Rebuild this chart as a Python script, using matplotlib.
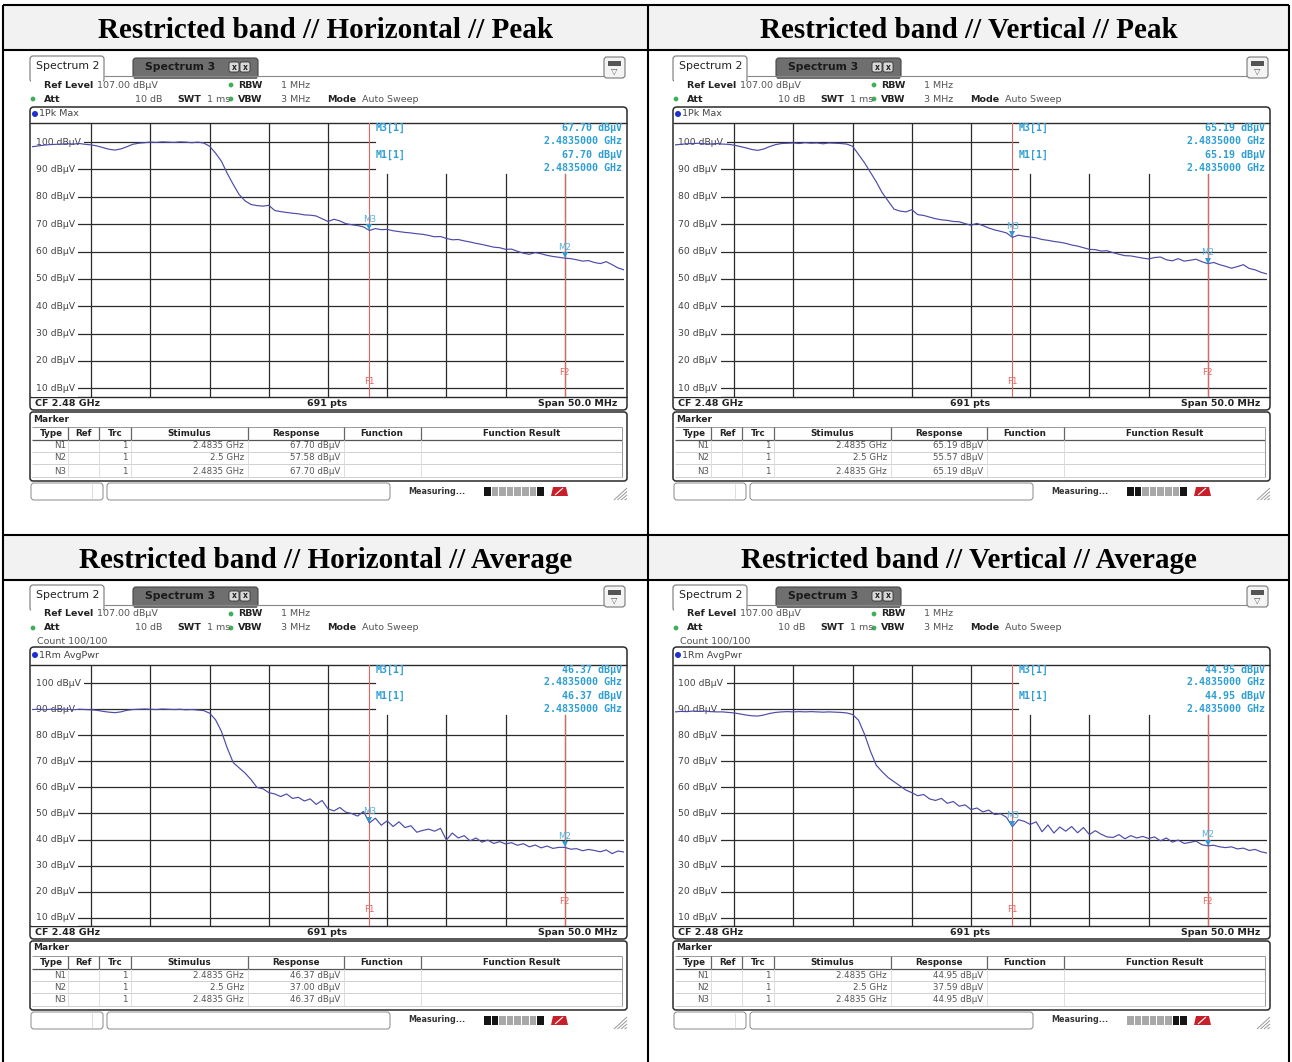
import matplotlib
matplotlib.use('Agg')
import matplotlib.pyplot as plt
from matplotlib.patches import FancyBboxPatch, Rectangle, Circle, Polygon
import numpy as np

W, H = 1292, 1062

# ---------------- data ----------------
panel_titles = ["Restricted band // Horizontal // Peak",
                "Restricted band // Vertical // Peak",
                "Restricted band // Horizontal // Average",
                "Restricted band // Vertical // Average"]
trace_names = ["1Pk Max", "1Pk Max", "1Rm AvgPwr", "1Rm AvgPwr"]
cf_ghz = 2.48
span_mhz = 50.0
f1_ghz = 2.4835
f2_ghz = 2.5
freq_offset_mhz = np.arange(0, 50.5, 0.5)  # 0.5 MHz sample positions across the span

trace_peak_h = [98.3, 98.6, 98.9, 99.1, 99.2, 99.3, 99.4, 99.3, 99.5, 99.2,
                99.0, 98.6, 98.0, 97.4, 97.1, 97.5, 98.3, 99.2, 99.6, 99.8,
                100.0, 99.9, 100.1, 100.0, 99.9, 100.1, 100.0, 99.8, 100.0, 99.7,
                98.5, 96.0, 93.0, 88.5, 84.5, 80.8, 78.5, 77.2, 76.8, 76.6,
                76.9, 75.0, 74.6, 74.3, 74.0, 73.8, 73.4, 73.3, 73.0, 72.0,
                71.0, 71.8, 71.2, 70.2, 69.8, 69.5, 69.0, 67.7, 68.4, 68.0,
                68.1, 67.6, 67.3, 67.0, 66.8, 66.5, 66.3, 65.9, 65.4, 65.5,
                64.8, 64.3, 64.4, 63.9, 63.5, 63.0, 62.6, 62.1, 61.6, 61.4,
                60.8, 60.9, 60.1, 59.4, 59.0, 59.6, 59.2, 58.6, 58.2, 57.9,
                57.58, 57.4, 57.0, 56.5, 56.7, 56.0, 55.6, 56.3, 55.2, 54.0, 53.3]
trace_peak_v = [99.0, 99.2, 99.4, 99.5, 99.6, 99.4, 99.3, 99.5, 99.3, 99.2,
                98.9, 98.4, 97.9, 97.3, 97.0, 97.5, 98.4, 99.1, 99.5, 99.6,
                99.7, 99.5, 99.8, 99.6, 99.7, 99.4, 99.7, 99.6, 99.5, 99.3,
                98.5, 95.5, 92.5, 89.0, 85.5, 81.5, 78.5, 75.5, 74.8, 74.5,
                75.3, 73.5, 73.2, 72.6, 72.0, 71.6, 71.4, 71.0, 70.9, 70.2,
                69.6, 70.3, 69.5, 68.6, 67.9, 67.4, 66.8, 65.19, 66.0, 65.6,
                65.3, 65.0, 64.4, 64.1, 63.7, 63.4, 63.0, 62.4, 62.0, 61.4,
                60.8, 60.7, 60.2, 60.3, 59.6, 59.0, 58.5, 58.4, 58.0, 57.6,
                57.3, 57.8, 58.0, 57.0, 56.6, 57.4, 56.5, 56.8, 57.2, 56.3,
                55.57, 56.0, 55.2, 54.6, 53.9, 54.5, 55.2, 53.8, 53.3, 52.4, 51.8]
trace_avg_h = [89.9, 90.0, 89.8, 90.0, 89.9, 90.0, 90.0, 89.8, 90.0, 89.9,
               89.8, 89.6, 89.2, 88.9, 88.7, 89.0, 89.6, 89.9, 90.0, 90.1,
               90.0, 89.9, 90.1, 90.0, 89.9, 90.0, 89.8, 89.9, 89.7, 89.5,
               88.5, 86.0, 81.5, 75.0, 69.5, 67.5, 65.5, 63.0, 60.0, 59.5,
               58.0, 57.5, 56.5, 57.5, 55.8, 56.2, 54.8, 55.6, 53.5, 55.0,
               51.8, 51.0, 52.3, 50.5, 50.0, 49.0, 50.8, 46.37, 48.2, 45.5,
               47.2, 45.0, 46.8, 44.6, 45.3, 42.8, 43.5, 44.0, 43.2, 44.3,
               39.8, 42.5, 40.6, 41.5, 39.5, 40.6, 39.0, 39.8, 38.5, 39.2,
               38.3, 38.8, 37.8, 38.4, 37.2, 37.9, 36.8, 37.5, 36.6, 37.0,
               37.00, 36.3, 36.5, 35.7, 36.2, 35.8, 35.3, 36.0, 34.6, 35.6, 35.2]
trace_avg_v = [89.0, 89.2, 89.1, 89.3, 89.2, 89.3, 89.1, 89.0, 89.0, 88.8,
               88.6, 88.2, 87.8, 87.5, 87.4, 87.8, 88.4, 88.8, 89.0, 89.1,
               89.0, 89.1, 89.0, 89.1, 89.0, 88.9, 89.0, 88.9, 88.8, 88.6,
               88.0, 85.8, 80.5, 74.0, 68.5, 66.0, 63.8, 62.2, 60.6, 59.0,
               58.0, 56.8, 57.3, 55.6, 55.0, 55.8, 53.9, 54.6, 52.8, 53.3,
               51.5, 52.1, 50.6, 51.3, 49.6, 49.9, 48.5, 44.95, 47.6, 47.0,
               45.8, 46.8, 43.0, 45.6, 42.5, 44.8, 43.2, 45.0, 42.6, 44.6,
               41.9, 43.4, 42.0, 41.0, 40.8, 41.9, 40.3, 41.5, 40.6, 41.2,
               40.4, 41.0, 39.5, 40.6, 39.0, 39.8, 38.5, 38.9, 39.4, 38.0,
               37.59, 37.8, 37.2, 36.9, 37.2, 36.4, 36.7, 35.8, 36.2, 35.3, 34.8]
traces = [trace_peak_h, trace_peak_v, trace_avg_h, trace_avg_v]

m1_values = [67.70, 65.19, 46.37, 44.95]   # M1 = M3 at 2.4835 GHz
m2_values = [57.58, 55.57, 37.00, 37.59]   # M2 at 2.5 GHz
ref_level = 107.0
y_ticks = [100, 90, 80, 70, 60, 50, 40, 30, 20, 10]
progress_black = [[0, 7], [0, 1, 7], [0, 1, 7], [6, 7]]

# ---------------- figure ----------------
fig = plt.figure(figsize=(W / 100, H / 100), dpi=100)
bg = fig.add_axes([0, 0, 1, 1], zorder=0)
bg.set_xlim(0, W)
bg.set_ylim(H, 0)
bg.axis('off')

SANS = 'DejaVu Sans'
MONO = 'DejaVu Sans Mono'

# table structure
for ty in (5, 535):
    bg.add_patch(Rectangle((3, ty), W - 6, 45, fc='#f2f2f2', ec='none', zorder=0))
for ty in (5, 50, 535, 580):
    bg.plot([3, W - 3], [ty, ty], color='black', lw=1.5, zorder=2, solid_capstyle='butt')
for tx in (3, 648, W - 3):
    bg.plot([tx, tx], [5, H], color='black', lw=1.5, zorder=2, solid_capstyle='butt')
title_pos = [(326, 30), (969, 30), (326, 560), (969, 560)]
for (tx, ty), t in zip(title_pos, panel_titles):
    bg.text(tx, ty, t, ha='center', va='center', fontsize=21, fontweight='bold',
            family='Liberation Serif', color='black', zorder=3)


def rbox(x0, y0, x1, y1, r=3, fc='white', ec='#555555', lw=0.8, z=1):
    bg.add_patch(FancyBboxPatch((x0 + r, y0 + r), (x1 - x0) - 2 * r, (y1 - y0) - 2 * r,
                                boxstyle="round,pad=%g" % r, fc=fc, ec=ec, lw=lw, zorder=z))


def draw_panel(idx, dx, dy):
    avg = idx >= 2

    def T(x, y, s, size=6.8, weight='normal', color='#333333', ha='left', family=SANS, z=4):
        bg.text(x + dx, y + dy, s, fontsize=size, fontweight=weight, color=color,
                ha=ha, va='center', family=family, zorder=z)

    def L(xs, ys, color='#333333', lw=0.8, z=2):
        bg.plot([x + dx for x in xs], [y + dy for y in ys], color=color, lw=lw, zorder=z,
                solid_capstyle='butt')

    # --- tabs ---
    L([104, 604], [76, 76], color='#888888', lw=0.8)
    rbox(30 + dx, 56 + dy, 104 + dx, 82 + dy, r=3, fc='white', ec='#777777', lw=0.8)
    bg.add_patch(Rectangle((31 + dx, 77 + dy), 72, 6, fc='white', ec='none', zorder=1.5))
    T(36, 66, "Spectrum 2", size=7.8, color='#222222')
    rbox(133 + dx, 58 + dy, 258 + dx, 78 + dy, r=3, fc='#6f6f6f', ec='#444444', lw=0.8)
    bg.add_patch(Rectangle((134 + dx, 76 + dy), 123, 3, fc='#6f6f6f', ec='none', zorder=1.5))
    T(145, 67, "Spectrum 3", size=7.8, weight='bold', color='#1a1a1a')
    for cx in (229, 240):
        rbox(cx + dx, 62 + dy, cx + 10 + dx, 72 + dy, r=2, fc='#d8d8d8', ec='#333333', lw=0.6, z=3)
        T(cx + 5, 67, "x", size=5.5, weight='bold', color='#222222', ha='center', z=5)
    # top-right icon
    rbox(604 + dx, 57 + dy, 625 + dx, 78 + dy, r=3, fc='#f4f4f4', ec='#777777', lw=0.8)
    bg.add_patch(Rectangle((608 + dx, 61 + dy), 13, 5, fc='#555555', ec='none', zorder=3))
    T(614.5, 71.5, "\u25BD", size=6, color='#555555', ha='center')

    # --- settings lines ---
    green = '#3fae5a'
    T(44, 85, "Ref Level", weight='bold', color='#222222')
    T(97, 85, "107.00 dB\u00b5V", color='#555555')
    bg.add_patch(Circle((231 + dx, 85 + dy), 2.4, fc=green, ec='none', zorder=3))
    T(238, 85, "RBW", weight='bold', color='#222222')
    T(281, 85, "1 MHz", color='#555555')
    bg.add_patch(Circle((33 + dx, 99 + dy), 2.4, fc=green, ec='none', zorder=3))
    T(44, 99, "Att", weight='bold', color='#222222')
    T(135, 99, "10 dB", color='#555555')
    T(177, 99, "SWT", weight='bold', color='#222222')
    T(207, 99, "1 ms", color='#555555')
    bg.add_patch(Circle((231 + dx, 99 + dy), 2.4, fc=green, ec='none', zorder=3))
    T(238, 99, "VBW", weight='bold', color='#222222')
    T(281, 99, "3 MHz", color='#555555')
    T(327, 99, "Mode", weight='bold', color='#222222')
    T(362, 99, "Auto Sweep", color='#555555')
    if avg:
        T(37, 112, "Count 100/100", color='#555555')

    # --- graph frame ---
    frame_top = 118 if avg else 107
    plot_top = 136.0 if avg else 123.0
    plot_bot = 396.5
    hdr_y = 126 if avg else 114
    rbox(30 + dx, frame_top + dy, 627 + dx, 410 + dy, r=4, fc='white', ec='#2a2a2a', lw=1.1, z=1)
    bg.add_patch(Circle((35 + dx, hdr_y + dy), 3, fc='#1f2fd0', ec='none', zorder=3))
    T(39, hdr_y, trace_names[idx], size=6.8, color='#444444')
    L([30, 627], [plot_top, plot_top], color='#2a2a2a', lw=1.0)
    L([30, 627], [plot_bot, plot_bot], color='#2a2a2a', lw=1.0)
    T(35, 403.5, "CF %.2f GHz" % cf_ghz, weight='bold', color='#222222')
    T(327, 403.5, "691 pts", weight='bold', color='#222222', ha='center')
    T(617, 403.5, "Span %.1f MHz" % span_mhz, weight='bold', color='#222222', ha='right')

    # --- plot axes ---
    ax_x0, ax_x1 = 32, 624
    ax = fig.add_axes([(ax_x0 + dx) / W, 1 - (plot_bot + dy) / H,
                       (ax_x1 - ax_x0) / W, (plot_bot - plot_top) / H], zorder=2)
    ax.patch.set_alpha(0)
    fmin = cf_ghz - span_mhz / 2000.0
    fmax = cf_ghz + span_mhz / 2000.0
    ymin, ymax = ref_level - 100, ref_level
    ax.set_xlim(fmin, fmax)
    ax.set_ylim(ymin, ymax)
    ax.axis('off')
    px_per_db = (plot_bot - plot_top) / 100.0
    mhz_per_px = span_mhz / (ax_x1 - ax_x0)

    def px2db(py):
        return ymax - (py - plot_top) / px_per_db

    info_ys = [141, 153, 167, 180] if avg else [128, 141, 155, 168]
    box_bottom_db = px2db(info_ys[-1] + 6)
    f_edge = f1_ghz + 0.0005
    gc = '#2b2b2b'
    for v in y_ticks:
        if v >= 90:
            ax.plot([fmin, f_edge], [v, v], color=gc, lw=0.9, zorder=1)
        else:
            ax.plot([fmin, fmax], [v, v], color=gc, lw=0.9, zorder=1)
        ax.text(fmin + 3.5 * mhz_per_px / 1000.0, v, "%d dB\u00b5V" % v, fontsize=6.7,
                color='#444444', va='center', ha='left', family=SANS, zorder=3,
                bbox=dict(boxstyle='square,pad=0.4', fc='white', ec='none'))
    for k in range(1, 10):
        fx = fmin + k * 0.005
        if fx > f1_ghz:
            ax.plot([fx, fx], [ymin, box_bottom_db], color=gc, lw=0.9, zorder=1)
        else:
            ax.plot([fx, fx], [ymin, ymax], color=gc, lw=0.9, zorder=1)
    red = '#e46560'
    ax.plot([f1_ghz, f1_ghz], [ymin, ymax], color=red, lw=0.8, zorder=2)
    ax.plot([f2_ghz, f2_ghz], [ymin, box_bottom_db], color=red, lw=0.8, zorder=2)
    ax.text(f1_ghz, px2db(381), "F1", color=red, fontsize=6.3, ha='center', va='center',
            family=SANS, zorder=4)
    ax.text(f2_ghz, px2db(372), "F2", color=red, fontsize=6.3, ha='center', va='center',
            family=SANS, zorder=4)

    freqs = fmin + freq_offset_mhz / 1000.0
    ax.plot(freqs, traces[idx], color='#4b4ba8', lw=0.85, zorder=5)

    mc = '#2d9bd2'
    for fm, val, lab in ((f1_ghz, m1_values[idx], "M3"), (f2_ghz, m2_values[idx], "M2")):
        ax.plot([fm], [val + 3.0 / px_per_db], marker='v', ms=5, color=mc, zorder=6,
                markeredgewidth=0)
        ax.text(fm, val + 11.0 / px_per_db, lab, color='#55aedb', fontsize=6.3,
                ha='center', va='center', family=SANS, zorder=6)

    # marker info text
    icol = '#2f9fd3'
    T(376, info_ys[0], "M3[1]", size=7.2, weight='bold', color=icol, family=MONO)
    T(622, info_ys[0], "%.2f dB\u00b5V" % m1_values[idx], size=7.2, weight='bold', color=icol,
      family=MONO, ha='right')
    T(622, info_ys[1], "%.7f GHz" % f1_ghz, size=7.2, weight='bold', color=icol,
      family=MONO, ha='right')
    T(376, info_ys[2], "M1[1]", size=7.2, weight='bold', color=icol, family=MONO)
    T(622, info_ys[2], "%.2f dB\u00b5V" % m1_values[idx], size=7.2, weight='bold', color=icol,
      family=MONO, ha='right')
    T(622, info_ys[3], "%.7f GHz" % f1_ghz, size=7.2, weight='bold', color=icol,
      family=MONO, ha='right')

    # --- marker table ---
    rbox(30 + dx, 412 + dy, 627 + dx, 481 + dy, r=3, fc='white', ec='#2a2a2a', lw=1.1, z=1)
    T(33, 419, "Marker", size=6.5, weight='bold', color='#222222')
    seps = [68, 99, 131, 248, 344, 421]
    L([32, 622], [427, 427], color='#999999', lw=0.7)
    L([32, 622], [440, 440], color='#555555', lw=0.9)
    for ry in (452, 464, 477):
        L([32, 622], [ry, ry], color='#d0d0d0', lw=0.7)
    L([622, 622], [427, 477], color='#999999', lw=0.7)
    for sx in seps:
        L([sx, sx], [427, 440], color='#666666', lw=0.9)
        L([sx, sx], [440, 477], color='#dddddd', lw=0.7)
    heads = [("Type", 51), ("Ref", 84), ("Trc", 115), ("Stimulus", 189), ("Response", 296),
             ("Function", 382), ("Function Result", 522)]
    for h, hx in heads:
        T(hx, 433.5, h, size=6.3, weight='bold', color='#222222', ha='center')
    rows = [("N1", "2.4835 GHz", m1_values[idx]), ("N2", "2.5 GHz", m2_values[idx]),
            ("N3", "2.4835 GHz", m1_values[idx])]
    for (nm, stim, resp), ry in zip(rows, (446, 458, 471)):
        T(66, ry, nm, size=6.2, color='#555555', ha='right')
        T(128, ry, "1", size=6.2, color='#555555', ha='right')
        T(244, ry, stim, size=6.2, color='#555555', ha='right')
        T(340, ry, "%.2f dB\u00b5V" % resp, size=6.2, color='#555555', ha='right')

    # --- status bar ---
    rbox(31 + dx, 483 + dy, 103 + dx, 500 + dy, r=3, fc='white', ec='#888888', lw=0.7)
    L([92, 92], [484, 499], color='#dddddd', lw=0.7)
    rbox(107 + dx, 483 + dy, 390 + dx, 500 + dy, r=3, fc='white', ec='#888888', lw=0.7)
    T(408, 491, "Measuring...", size=5.8, weight='bold', color='#333333')
    for s in range(8):
        c = '#151515' if s in progress_black[idx] else '#a8a8a8'
        bg.add_patch(Rectangle((484 + s * 7.6 + dx, 487 + dy), 6.6, 9, fc=c, ec='none', zorder=3))
    bg.add_patch(Polygon([(551 + dx, 496 + dy), (553 + dx, 487 + dy), (566 + dx, 487 + dy),
                          (568 + dx, 496 + dy)], closed=True, fc='#c8202a', ec='none', zorder=3))
    L([555, 563], [495, 488], color='white', lw=0.8, z=4)
    for g in range(4):
        L([614 + g * 3.5, 627], [500, 488 + g * 3.5], color='#999999', lw=0.7)


offsets = [(0, 0), (643, 0), (0, 529), (643, 529)]
for i, (ox, oy) in enumerate(offsets):
    draw_panel(i, ox, oy)

fig.savefig('out.png', dpi=100)
